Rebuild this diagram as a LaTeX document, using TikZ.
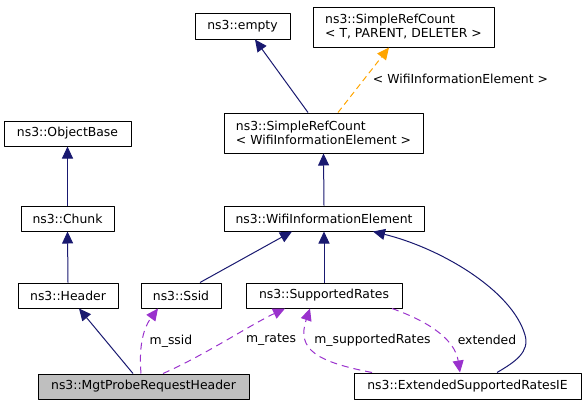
\documentclass[tikz,border=0pt]{standalone}
\usepackage{fontspec}
\setmainfont{DejaVu Sans}
\usepackage{tikz}
\usetikzlibrary{arrows.meta}
\definecolor{edgeblue}{RGB}{25,25,112}
\definecolor{edgeorange}{RGB}{255,165,0}
\definecolor{edgepurple}{RGB}{154,50,205}
\definecolor{nodegray}{RGB}{191,191,191}

\begin{document}
\begin{tikzpicture}
    [line join=round,x=1pt,y=-1pt,
     font=\fontsize{12.4}{14}\selectfont,
     cls/.style={draw=black,line width=1pt,rectangle,inner sep=0pt,align=left},
     inherit/.style={-{Triangle[length=12pt,width=11pt]},color=edgeblue,line width=1pt},
     templ/.style={-{Triangle[length=12pt,width=11pt]},color=edgeorange,line width=1pt,dash pattern=on 6pt off 4pt},
     usage/.style={-{Triangle[length=12pt,width=11pt]},color=edgepurple,line width=1pt,dash pattern=on 7pt off 5pt},
     lbl/.style={inner sep=0pt}]
\useasboundingbox (0,0) rectangle (587,405);
%class boxes
\node[cls,minimum width=95pt,minimum height=26pt] (empty) at (242.5,26) {ns3::empty};
\node[cls,minimum width=181pt,minimum height=40pt] (srcT) at (403.5,27) {ns3::SimpleRefCount\\< T, PARENT, DELETER >};
\node[cls,minimum width=199pt,minimum height=40pt] (srcWie) at (323.5,133) {ns3::SimpleRefCount\\< WifiInformationElement >};
\node[cls,minimum width=200pt,minimum height=25pt] (wie) at (324,218.5) {ns3::WifiInformationElement};
\node[cls,minimum width=127pt,minimum height=25pt] (objBase) at (67.5,133.5) {ns3::ObjectBase};
\node[cls,minimum width=93pt,minimum height=25pt] (chunk) at (67.5,218.5) {ns3::Chunk};
\node[cls,minimum width=100pt,minimum height=25pt] (header) at (68,295.5) {ns3::Header};
\node[cls,minimum width=80pt,minimum height=25pt] (ssid) at (181,295.5) {ns3::Ssid};
\node[cls,minimum width=156pt,minimum height=25pt] (suppRates) at (324,295.5) {ns3::SupportedRates};
\node[cls,fill=nodegray,minimum width=211pt,minimum height=25pt] (mgtProbe) at (143.5,386.5) {ns3::MgtProbeRequestHeader};
\node[cls,minimum width=227pt,minimum height=26pt] (extSR) at (467.5,386) {ns3::ExtendedSupportedRatesIE};

%inheritance
\draw[inherit] ([xshift=-15.5pt]srcWie.north) -- ([xshift=12.5pt]empty.south);
\draw[templ] ([xshift=14.5pt]srcWie.north) -- ([xshift=-14.5pt]srcT.south);
\draw[inherit] (wie.north) -- (srcWie.south);
\draw[inherit] (chunk.north) -- (objBase.south);
\draw[inherit] (header.north) -- (chunk.south);
\draw[inherit] ([xshift=-10.5pt]mgtProbe.north) -- ([xshift=11pt]header.south);
\draw[inherit] ([xshift=19pt]ssid.north) -- ([xshift=-32pt]wie.south);
\draw[inherit] (suppRates.north) -- (wie.south);
\draw[inherit] ([xshift=29.5pt]extSR.north) .. controls (515,362) and (530,352) .. (525,335)
    .. controls (512,290) and (440,248) .. ([xshift=49pt]wie.south);

%members
\draw[usage] ([xshift=-2.5pt]mgtProbe.north) .. controls (139,350) and (142,330) .. ([xshift=-23pt]ssid.south);
\draw[usage] ([xshift=19.5pt]mgtProbe.north) .. controls (205,355) and (250,325) .. ([xshift=-39pt]suppRates.south);
\draw[usage] ([xshift=-95.5pt]extSR.north) .. controls (318,362) and (296,350) .. ([xshift=-14pt]suppRates.south);
\draw[usage] ([xshift=68pt]suppRates.south) .. controls (430,322) and (455,340) .. ([xshift=-7.5pt]extSR.north);

%edge labels
\node[lbl] (lblTempl) at (460.5,79) {< WifiInformationElement >};
\node[lbl] (lblSsid) at (171,341) {m\_ssid};
\node[lbl] (lblRates) at (271,340) {m\_rates};
\node[lbl] (lblSupp) at (372.5,340) {m\_supportedRates};
\node[lbl] (lblExt) at (487,340) {extended};
\end{tikzpicture}
\end{document}
